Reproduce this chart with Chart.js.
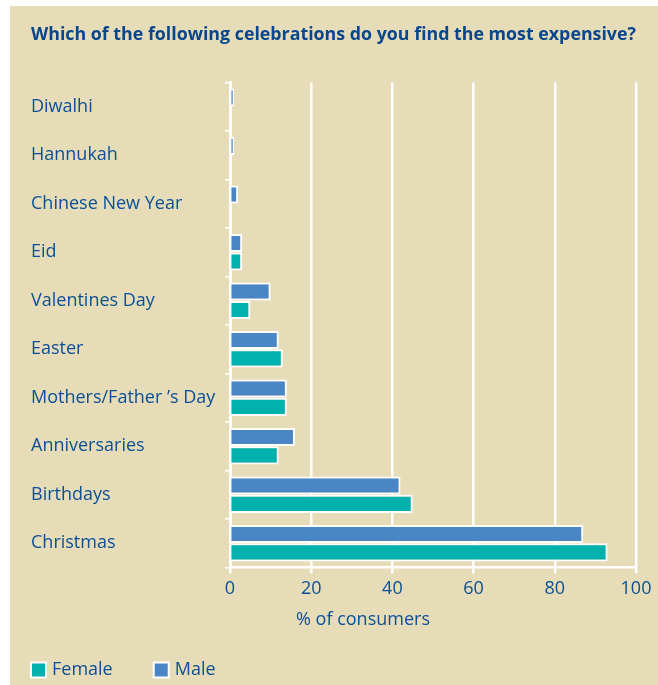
<!DOCTYPE html>
<html>
<head>
<meta charset="utf-8">
<script src="https://cdn.jsdelivr.net/npm/chart.js@4.4.0/dist/chart.umd.min.js"></script>
<style>
  html, body { margin: 0; padding: 0; background: #ffffff; }
  #wrap { position: relative; width: 658px; height: 685px; }
</style>
</head>
<body>
<div id="wrap"><canvas id="chart"></canvas></div>
<script>
// Survey answers, % of consumers
const categories = [
  'Diwalhi', 'Hannukah', 'Chinese New Year', 'Eid', 'Valentines Day',
  'Easter', 'Mothers/Father \u2019s Day', 'Anniversaries', 'Birthdays', 'Christmas'
];
const maleValues   = [1, 1, 2, 3, 10, 12, 14, 16, 42, 87];
const femaleValues = [0, 0, 0, 3, 5, 13, 14, 12, 45, 93];
const xTickValues  = [0, 20, 40, 60, 80, 100];

const titleText = 'Which of the following celebrations do you find the most expensive?';
const axisTitleText = '% of consumers';

const BEIGE = '#e6ddb8';
const TEXT_BLUE = '#0c4f97';
const TITLE_BLUE = '#0a468e';
const MALE_BLUE = '#4a86c6';
const FEMALE_TEAL = '#00b1ad';
const FONT = '"Open Sans", "Noto Sans", sans-serif';
const LABEL_SIZE = 18;

// Beige panel behind the whole chart
const panelPlugin = {
  id: 'panel',
  beforeDraw(chart) {
    const { ctx, width, height } = chart;
    ctx.save();
    ctx.fillStyle = '#ffffff';
    ctx.fillRect(0, 0, width, height);
    ctx.fillStyle = BEIGE;
    ctx.fillRect(10, 6, width - 10, height - 6);
    ctx.restore();
  }
};

// Axis caption and key drawn below the x axis
const footerPlugin = {
  id: 'footer',
  afterDraw(chart, args, opts) {
    const ctx = chart.ctx;
    ctx.save();
    ctx.font = LABEL_SIZE + 'px ' + FONT;
    ctx.fillStyle = TEXT_BLUE;
    ctx.textBaseline = 'middle';
    ctx.textAlign = 'center';
    ctx.fillText(axisTitleText, opts.captionX, opts.captionY);

    ctx.textAlign = 'left';
    let x = opts.keyX;
    const y = opts.keyY;
    const s = opts.box;
    chart.data.datasets.slice().reverse().forEach(ds => {
      ctx.fillStyle = '#ffffff';
      ctx.fillRect(x, y - s / 2, s, s);
      ctx.fillStyle = ds.backgroundColor;
      ctx.fillRect(x + 2, y - s / 2 + 2, s - 4, s - 4);
      ctx.fillStyle = TEXT_BLUE;
      const tx = x + s + opts.textGap;
      ctx.fillText(ds.label, tx, y);
      x = tx + ctx.measureText(ds.label).width + opts.itemGap;
    });
    ctx.restore();
  }
};

const barBorder = { top: 2, bottom: 2, left: 0, right: 2 };

new Chart(document.getElementById('chart'), {
  type: 'bar',
  data: {
    labels: categories,
    datasets: [
      {
        label: 'Male',
        data: maleValues,
        backgroundColor: MALE_BLUE,
        borderColor: '#ffffff',
        borderWidth: barBorder,
        borderSkipped: false,
        categoryPercentage: 0.76,
        barPercentage: 0.98
      },
      {
        label: 'Female',
        data: femaleValues,
        backgroundColor: FEMALE_TEAL,
        borderColor: '#ffffff',
        borderWidth: barBorder,
        borderSkipped: false,
        categoryPercentage: 0.76,
        barPercentage: 0.98
      }
    ]
  },
  options: {
    indexAxis: 'y',
    responsive: true,
    maintainAspectRatio: false,
    animation: false,
    layout: { padding: { left: 31, right: 22, top: 6, bottom: 80 } },
    plugins: {
      legend: { display: false },
      tooltip: { enabled: false },
      title: {
        display: true,
        text: titleText,
        align: 'start',
        color: TITLE_BLUE,
        font: { family: FONT, size: 17.9, weight: 'bold' },
        padding: { top: 18, bottom: 37 }
      },
      footer: { captionX: 363, captionY: 620, keyX: 30, keyY: 670, box: 17, textGap: 5, itemGap: 40 }
    },
    scales: {
      x: {
        min: 0,
        max: 100,
        afterBuildTicks: scale => { scale.ticks = xTickValues.map(v => ({ value: v })); },
        ticks: { color: TEXT_BLUE, font: { family: FONT, size: LABEL_SIZE }, padding: 5 },
        grid: { color: '#ffffff', lineWidth: 2.5, tickLength: 6 },
        border: { display: true, color: '#ffffff', width: 2.5 }
      },
      y: {
        afterFit: scale => { scale.width = 199; },
        ticks: { crossAlign: 'far', color: TEXT_BLUE, font: { family: FONT, size: LABEL_SIZE } },
        grid: { drawOnChartArea: false, color: '#ffffff', lineWidth: 1.5, tickLength: 5 },
        border: { display: true, color: '#ffffff', width: 3 }
      }
    }
  },
  plugins: [panelPlugin, footerPlugin]
});
</script>
</body>
</html>
